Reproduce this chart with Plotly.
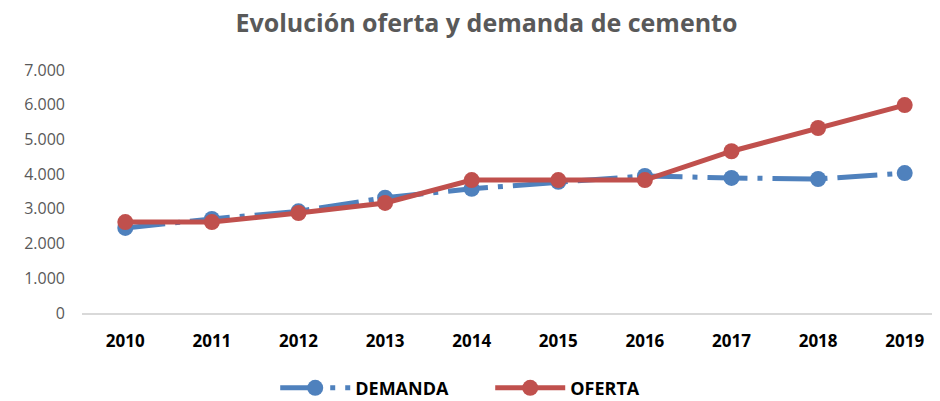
import plotly.graph_objects as go

years = ["2010", "2011", "2012", "2013", "2014", "2015", "2016", "2017", "2018", "2019"]
demanda = [2450, 2710, 2930, 3320, 3580, 3780, 3950, 3890, 3860, 4030]
oferta = [2620, 2620, 2880, 3170, 3830, 3830, 3830, 4660, 5330, 5990]

fig = go.Figure()
fig.add_trace(go.Scatter(
    x=years, y=demanda, name="DEMANDA", mode="lines+markers",
    line=dict(color="#4F81BD", width=5, dash="40px,10px,5px,10px"),
    marker=dict(color="#4F81BD", size=16),
    cliponaxis=False,
))
fig.add_trace(go.Scatter(
    x=years, y=oferta, name="OFERTA", mode="lines+markers",
    line=dict(color="#C0504D", width=5),
    marker=dict(color="#C0504D", size=16),
    cliponaxis=False,
))

fig.update_layout(
    width=940, height=401,
    paper_bgcolor="white", plot_bgcolor="white",
    separators=",.",
    margin=dict(l=74, r=0, t=62, b=96),
    title=dict(text="<b>Evolución oferta y demanda de cemento</b>",
               x=0.509, xanchor="center", y=0.962, yanchor="middle",
               font=dict(family="Open Sans", size=25, color="#595959")),
    xaxis=dict(type="category", range=[-0.5, 9.5], showgrid=False, automargin=False,
               showline=True, linecolor="#D9D9D9", linewidth=1.5,
               ticks="", ticklabelstandoff=12,
               tickfont=dict(family="Open Sans", size=17, color="#000000", weight="bold")),
    yaxis=dict(range=[0, 7000], dtick=1000, tickformat=",d", showgrid=False, automargin=False,
               zeroline=False, showline=False, ticks="", ticklabelstandoff=16,
               tickfont=dict(family="Open Sans", size=16, color="#595959")),
    legend=dict(orientation="h", xref="container", yref="container",
                x=0.513, xanchor="center", y=0.052, yanchor="middle",
                font=dict(family="Open Sans", size=18, color="#000000", weight="bold"),
                itemwidth=70, entrywidth=130, entrywidthmode="pixels"),
    showlegend=True,
)

fig.write_html("out.html")
